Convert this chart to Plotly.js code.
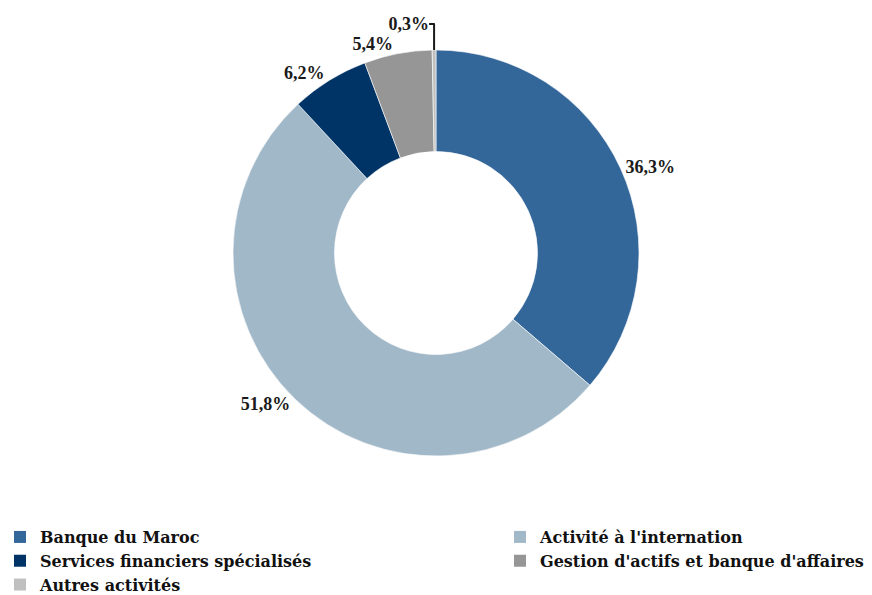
<!DOCTYPE html>
<html><head><meta charset="utf-8">
<script src="https://cdn.plot.ly/plotly-3.0.1.min.js"></script>
<style>body{margin:0;background:#fff}</style></head><body>
<div id="chart" style="width:872px;height:595px"></div>
<script>
const labels = ["Banque du Maroc", "Activité à l'internation", "Services financiers spécialisés", "Gestion d'actifs et banque d'affaires", "Autres activités"];
const values = [36.3, 51.8, 6.2, 5.4, 0.3];
const colors = ["#336699", "#a1b8c8", "#003366", "#969696", "#c0c0c0"];
const legendColumn = ["legend", "legend2", "legend", "legend2", "legend"];

const legendFont = {family: "DejaVu Serif", size: 16, color: "#111", weight: "bold"};

const traces = [{
  type: "pie",
  labels: labels,
  values: values,
  sort: false,
  direction: "clockwise",
  rotation: 0,
  hole: 0.5,
  marker: {colors: colors, line: {color: "#ffffff", width: 0.6}},
  textposition: "outside",
  texttemplate: "%{value:.1f}%",
  textfont: {family: "Liberation Serif", size: 18, color: "#1a1a1a", weight: "bold"},
  showlegend: false,
  automargin: false,
  domain: {x: [0, 1], y: [0, 1]},
  hoverinfo: "label+percent"
}];
labels.forEach((lab, i) => {
  traces.push({
    type: "scatter", x: [null], y: [null], mode: "markers",
    marker: {symbol: "square", size: 12, color: colors[i]},
    name: lab, legend: legendColumn[i], hoverinfo: "skip"
  });
});

const layout = {
  width: 872, height: 595,
  margin: {l: 0, r: 0, t: 50, b: 139, autoexpand: false},
  paper_bgcolor: "#ffffff", plot_bgcolor: "#ffffff",
  separators: ", ",
  xaxis: {visible: false}, yaxis: {visible: false},
  showlegend: true,
  legend: {xref: "container", yref: "container", x: 0, y: 0.126, xanchor: "left", yanchor: "top",
           orientation: "v", font: legendFont, bgcolor: "rgba(0,0,0,0)", itemwidth: 30},
  legend2: {xref: "container", yref: "container", x: 0.5734, y: 0.126, xanchor: "left", yanchor: "top",
           orientation: "v", font: legendFont, bgcolor: "rgba(0,0,0,0)", itemwidth: 30}
};
Plotly.newPlot("chart", traces, layout, {displayModeBar: false, staticPlot: true});
</script></body></html>
